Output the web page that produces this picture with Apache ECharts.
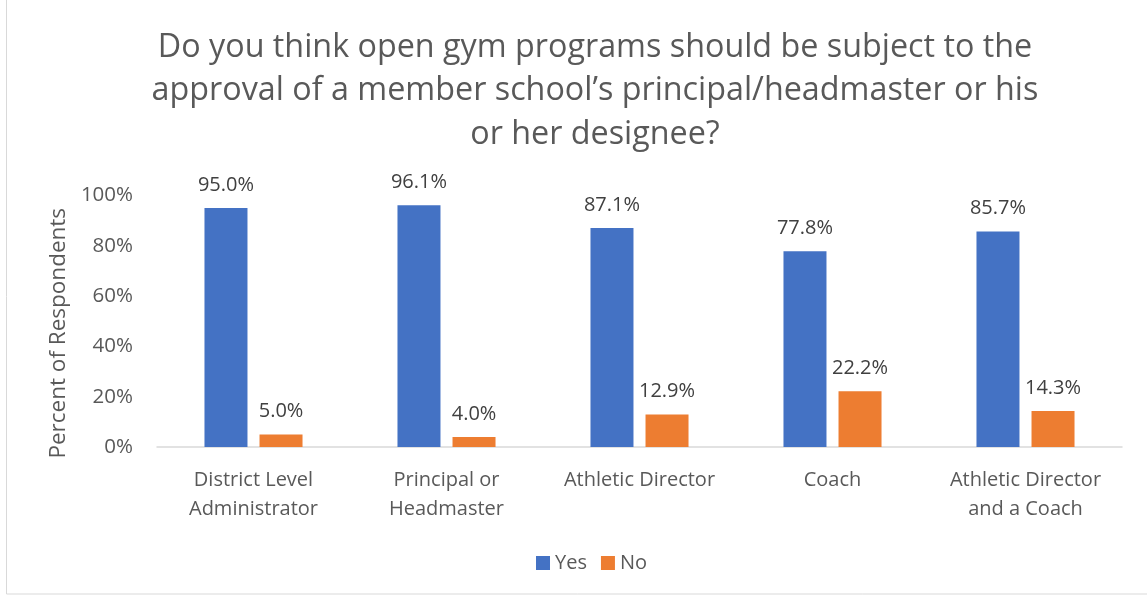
<!DOCTYPE html>
<html><head><meta charset="utf-8">
<script src="https://cdn.jsdelivr.net/npm/echarts@6/dist/echarts.min.js"></script>
<style>html,body{margin:0;padding:0;background:#fff}#c{width:1147px;height:596px}</style>
</head><body><div id="c"></div>
<script>
var categories = ['District Level\nAdministrator', 'Principal or\nHeadmaster', 'Athletic Director', 'Coach', 'Athletic Director\nand a Coach'];
var yesValues = [95.0, 96.1, 87.1, 77.8, 85.7];
var noValues = [5.0, 4.0, 12.9, 22.2, 14.3];
var titleText = 'Do you think open gym programs should be subject to the\napproval of a member school\u2019s principal/headmaster or his\nor her designee?';
var FONT = '"Open Sans", sans-serif';
var chart = echarts.init(document.getElementById('c'));
chart.setOption({
  animation: false,
  graphic: [{type:'rect', shape:{x:6.5,y:-2,width:1160,height:596}, style:{fill:'none', stroke:'#d9d9d9', lineWidth:1}}],
  title: {text: titleText, left: 590, textAlign: 'center', top: 21,
    textStyle: {fontFamily: FONT, fontSize: 32.3, fontWeight: 'normal', color: '#595959', lineHeight: 43.5}},
  legend: {data: ['Yes','No'], bottom: 18, left: 531, itemWidth: 14, itemHeight: 14, icon: 'rect', itemGap: 14,
    textStyle: {fontFamily: FONT, fontSize: 20, color: '#595959'}},
  grid: {left: 157, right: 25, top: 195.5, bottom: 149},
  xAxis: {type: 'category', data: categories,
    axisLine: {lineStyle: {color: '#d9d9d9', width: 1.5}}, axisTick: {show: false},
    axisLabel: {fontFamily: FONT, fontSize: 20, color: '#595959', lineHeight: 29, margin: 19, interval: 0}},
  yAxis: {type: 'value', min: 0, max: 100, interval: 20,
    name: 'Percent of Respondents', nameLocation: 'middle', nameGap: 87, nameRotate: 90,
    nameTextStyle: {fontFamily: FONT, fontSize: 22.5, color: '#595959', padding: [0, 24, 0, 0]},
    axisLine: {show: false}, axisTick: {show: false}, splitLine: {show: false},
    axisLabel: {formatter: '{value}%', fontFamily: FONT, fontSize: 20.5, color: '#595959', margin: 24}},
  series: [
    {name: 'Yes', type: 'bar', data: yesValues, barWidth: 43, barGap: '28%',
     itemStyle: {color: '#4472C4'},
     label: {show: true, position: 'top', distance: 13, formatter: function(p){return p.value.toFixed(1)+'%';},
       fontFamily: FONT, fontSize: 20, color: '#404040'}},
    {name: 'No', type: 'bar', data: noValues, barWidth: 43,
     itemStyle: {color: '#ED7D31'},
     label: {show: true, position: 'top', distance: 13, formatter: function(p){return p.value.toFixed(1)+'%';},
       fontFamily: FONT, fontSize: 20, color: '#404040'}}
  ]
});
</script></body></html>
